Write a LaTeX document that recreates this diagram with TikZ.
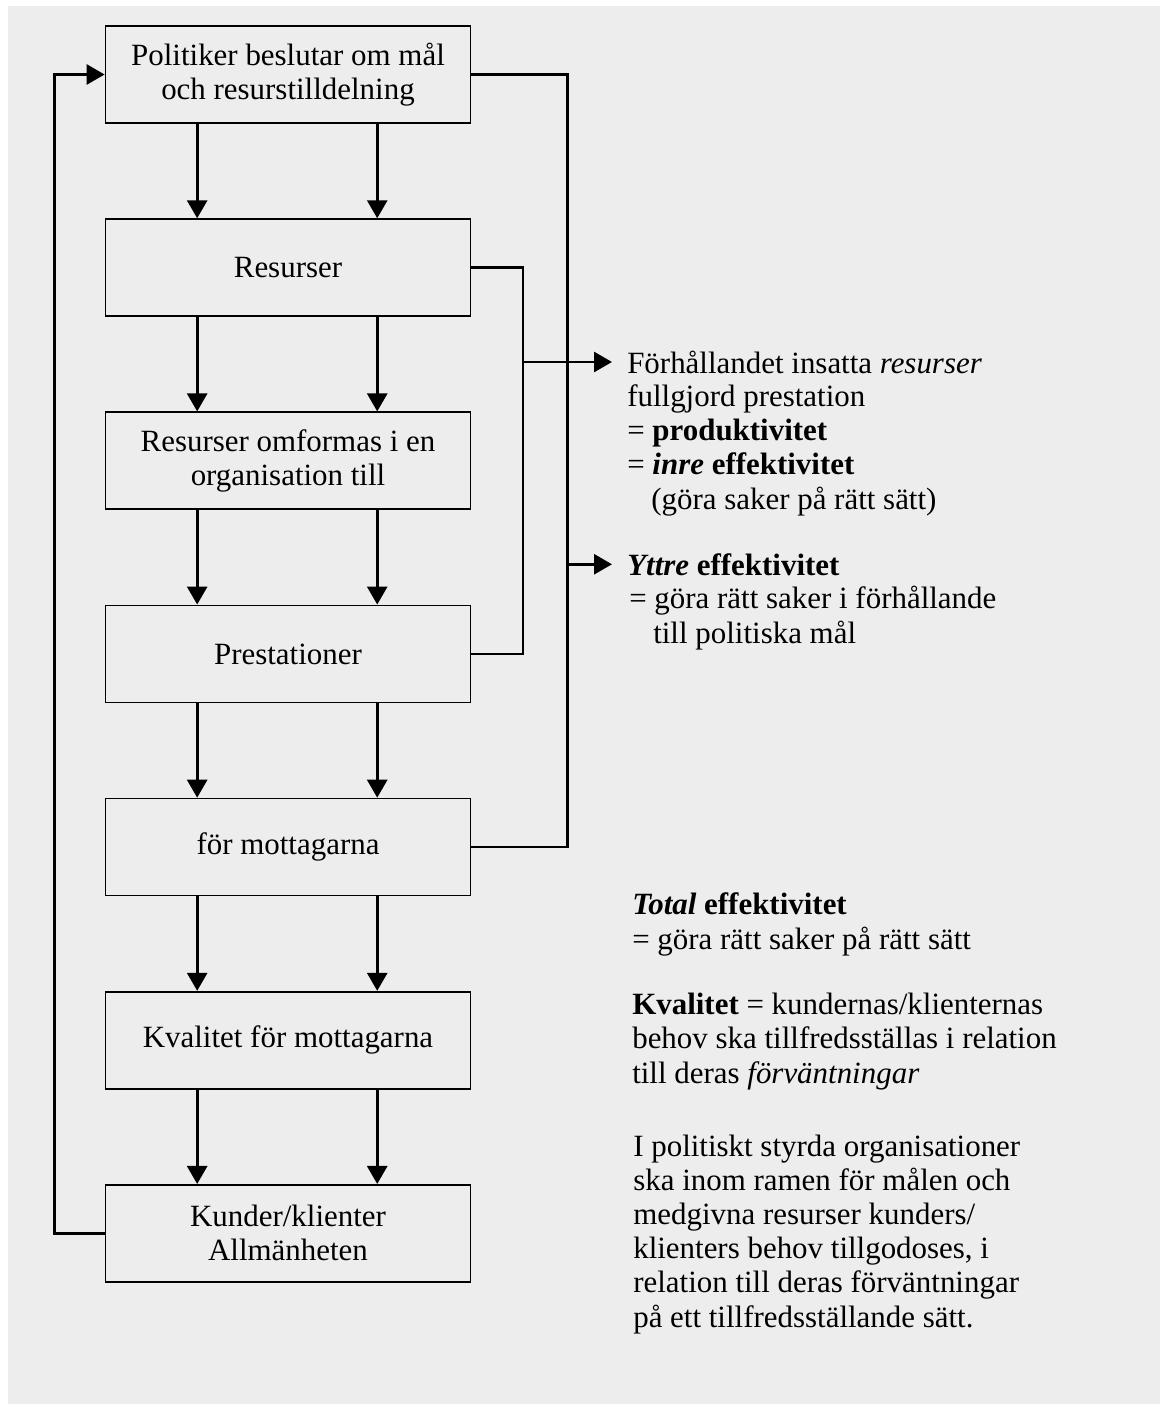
\documentclass[tikz,border=0pt]{standalone}
\usepackage{fontspec}
\setmainfont{Liberation Serif}
\usetikzlibrary{arrows.meta,positioning}
\definecolor{paper}{gray}{0.93}

\begin{document}
\begin{tikzpicture}[x=0.025cm, y=-0.025cm,
    >={Triangle[length=0.45cm,width=0.5cm]},
node distance = 2.36cm,
    stage/.style = {draw, line width=1.2pt, fill=paper, align=center,
                    minimum width=9.125cm, minimum height=2.425cm},
     note/.style = {inner sep=0pt, align=left, anchor=base west},
     head/.style = {inner xsep=0.375cm, inner ysep=0pt, anchor=base west},
     flow/.style = {line width=2pt},
every node/.append style = {font=\fontsize{22}{24.2}\selectfont}
                    ]
\fill[white] (0,0) rectangle (1165,1410);
\fill[paper] (8,6) rectangle (1160,1404);
\useasboundingbox (0,0) rectangle (1165,1410);
% the chain of boxes
\node (pol) [stage] at (288,74.5) {Politiker beslutar om mål\\och resurstilldelning};
\node (res) [stage,below=of pol]  {Resurser};
\node (omf) [stage,below=of res]  {Resurser omformas i en\\organisation till};
\node (pre) [stage,below=of omf]  {Prestationer};
\node (mot) [stage,below=of pre]  {för mottagarna};
\node (kva) [stage,below=of mot]  {Kvalitet för mottagarna};
\node (kun) [stage,below=of kva]  {Kunder/klienter\\Allmänheten};
\foreach \a/\b in {pol/res,res/omf,omf/pre,pre/mot,mot/kva,kva/kun}
  {
  \draw[flow,->] ([xshift=-2.27cm]\a.south) -- ([xshift=-2.27cm]\b.north);
  \draw[flow,->] ([xshift=2.23cm]\a.south)  -- ([xshift=2.23cm]\b.north);
  }
% feedback to the top
\draw[flow,->] (kun.west) -- ++(-1.26cm,0) |- (pol.west);
% text on the right (placed at the baseline of the last line)
\node (hd1) [head] at (612,373) {Förhållandet insatta \textit{resurser}};
\node (tx1) [note] at (627,509) {fullgjord prestation\\
                                 = \textbf{produktivitet}\\
                                 = \textbf{\textit{inre} effektivitet}\\
                                 \hspace{0.6cm}(göra saker på rätt sätt)};
\node (hd2) [head] at (612,575) {\textbf{\textit{Yttre} effektivitet}};
\node (tx2) [note] at (629,643) {= göra rätt saker i förhållande\\
                                 \hspace{0.6cm}till politiska mål};
\node (tot) [note] at (632,949) {\textbf{\textit{Total} effektivitet}\\
                                 = göra rätt saker på rätt sätt};
\node (kvl) [note] at (632,1083) {\textbf{Kvalitet} = kundernas/klienternas\\
                                  behov ska tillfredsställas i relation\\
                                  till deras \textit{förväntningar}};
\node (pst) [note] at (633,1327) {I politiskt styrda organisationer\\
                                  ska inom ramen för målen och\\
                                  medgivna resurser kunders/\\
                                  klienters behov tillgodoses, i\\
                                  relation till deras förväntningar\\
                                  på ett tillfredsställande sätt.};
% lines out to the right
\draw[flow] (pol.east) -- ++(2.41cm,0) coordinate (r1) |- (mot.east);
\draw[flow] (res.east) -- ++(1.29cm,0) coordinate (r2) |- (pre.east);
\draw[flow,->] (r2 |- hd1.west) -- (hd1.west);
\draw[flow,->] (r1 |- hd2.west) -- (hd2.west);
\end{tikzpicture}
\end{document}
